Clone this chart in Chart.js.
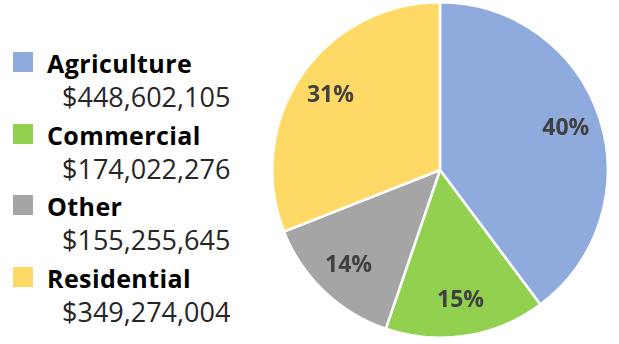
<!DOCTYPE html>
<html>
<head>
<meta charset="utf-8">
<script src="https://cdn.jsdelivr.net/npm/chart.js@4"></script>
<style>
  body { margin: 0; width: 619px; height: 344px; background: #fff; position: relative; overflow: hidden; font-family: "Open Sans", "Noto Sans", sans-serif; }
  #legend { position: absolute; left: 0; top: 0; }
  .box { position: absolute; left: 13px; width: 20px; height: 20px; }
  .name { position: absolute; left: 47px; font-weight: bold; font-size: 25px; letter-spacing: 0.4px; color: #000; white-space: nowrap; line-height: 1; }
  .val { position: absolute; left: 62px; font-size: 27px; color: #262626; white-space: nowrap; line-height: 1; }
  #wrap { position: absolute; left: 271px; top: 1px; width: 338px; height: 338px; }
</style>
</head>
<body>
<div id="legend"></div>
<div id="wrap"><canvas id="chart"></canvas></div>
<script>
let categories = ['Agriculture', 'Commercial', 'Other', 'Residential'],
amounts = [448602105, 174022276, 155255645, 349274004],
colors = ['#8FAADC', '#92D050', '#A5A5A5', '#FFD966'];

// legend on the left, built from the same arrays
let legend = document.getElementById('legend');
categories.forEach((c, i) => {
    let top = Math.round(52 + i * 71.5);
    legend.innerHTML +=
        `<div class="box" style="top:${top}px;background:${colors[i]}"></div>` +
        `<div class="name" style="top:${top - 1}px">${c}</div>` +
        `<div class="val" style="top:${top + 31}px">$${amounts[i].toLocaleString('en-US')}</div>`;
});

// percentages inside the slices
const pctLabels = {
    id: 'pctLabels',
    afterDatasetsDraw(chart) {
        let ctx = chart.ctx,
        meta = chart.getDatasetMeta(0),
        total = amounts.reduce((a, b) => a + b, 0);
        ctx.save();
        ctx.font = 'bold 23px "Open Sans", "Noto Sans", sans-serif';
        ctx.fillStyle = '#404040';
        ctx.textAlign = 'center';
        ctx.textBaseline = 'middle';
        meta.data.forEach((arc, i) => {
            let mid = (arc.startAngle + arc.endAngle) / 2,
            r = arc.outerRadius * 0.79;
            ctx.fillText(Math.round(amounts[i] / total * 100) + '%', arc.x + Math.cos(mid) * r, arc.y + Math.sin(mid) * r);
        });
        ctx.restore();
    }
};

new Chart(document.getElementById('chart').getContext('2d'), {
    type: 'pie',
    data: {
        labels: categories,
        datasets: [{
            data: amounts,
            backgroundColor: colors,
            borderColor: '#fff',
            borderWidth: 2.5
        }]
    },
    options: {
        responsive: true,
        maintainAspectRatio: false,
        animation: false,
        layout: { padding: 0 },
        plugins: {
            legend: { display: false },
            tooltip: { enabled: false }
        }
    },
    plugins: [pctLabels]
});
</script>
</body>
</html>
